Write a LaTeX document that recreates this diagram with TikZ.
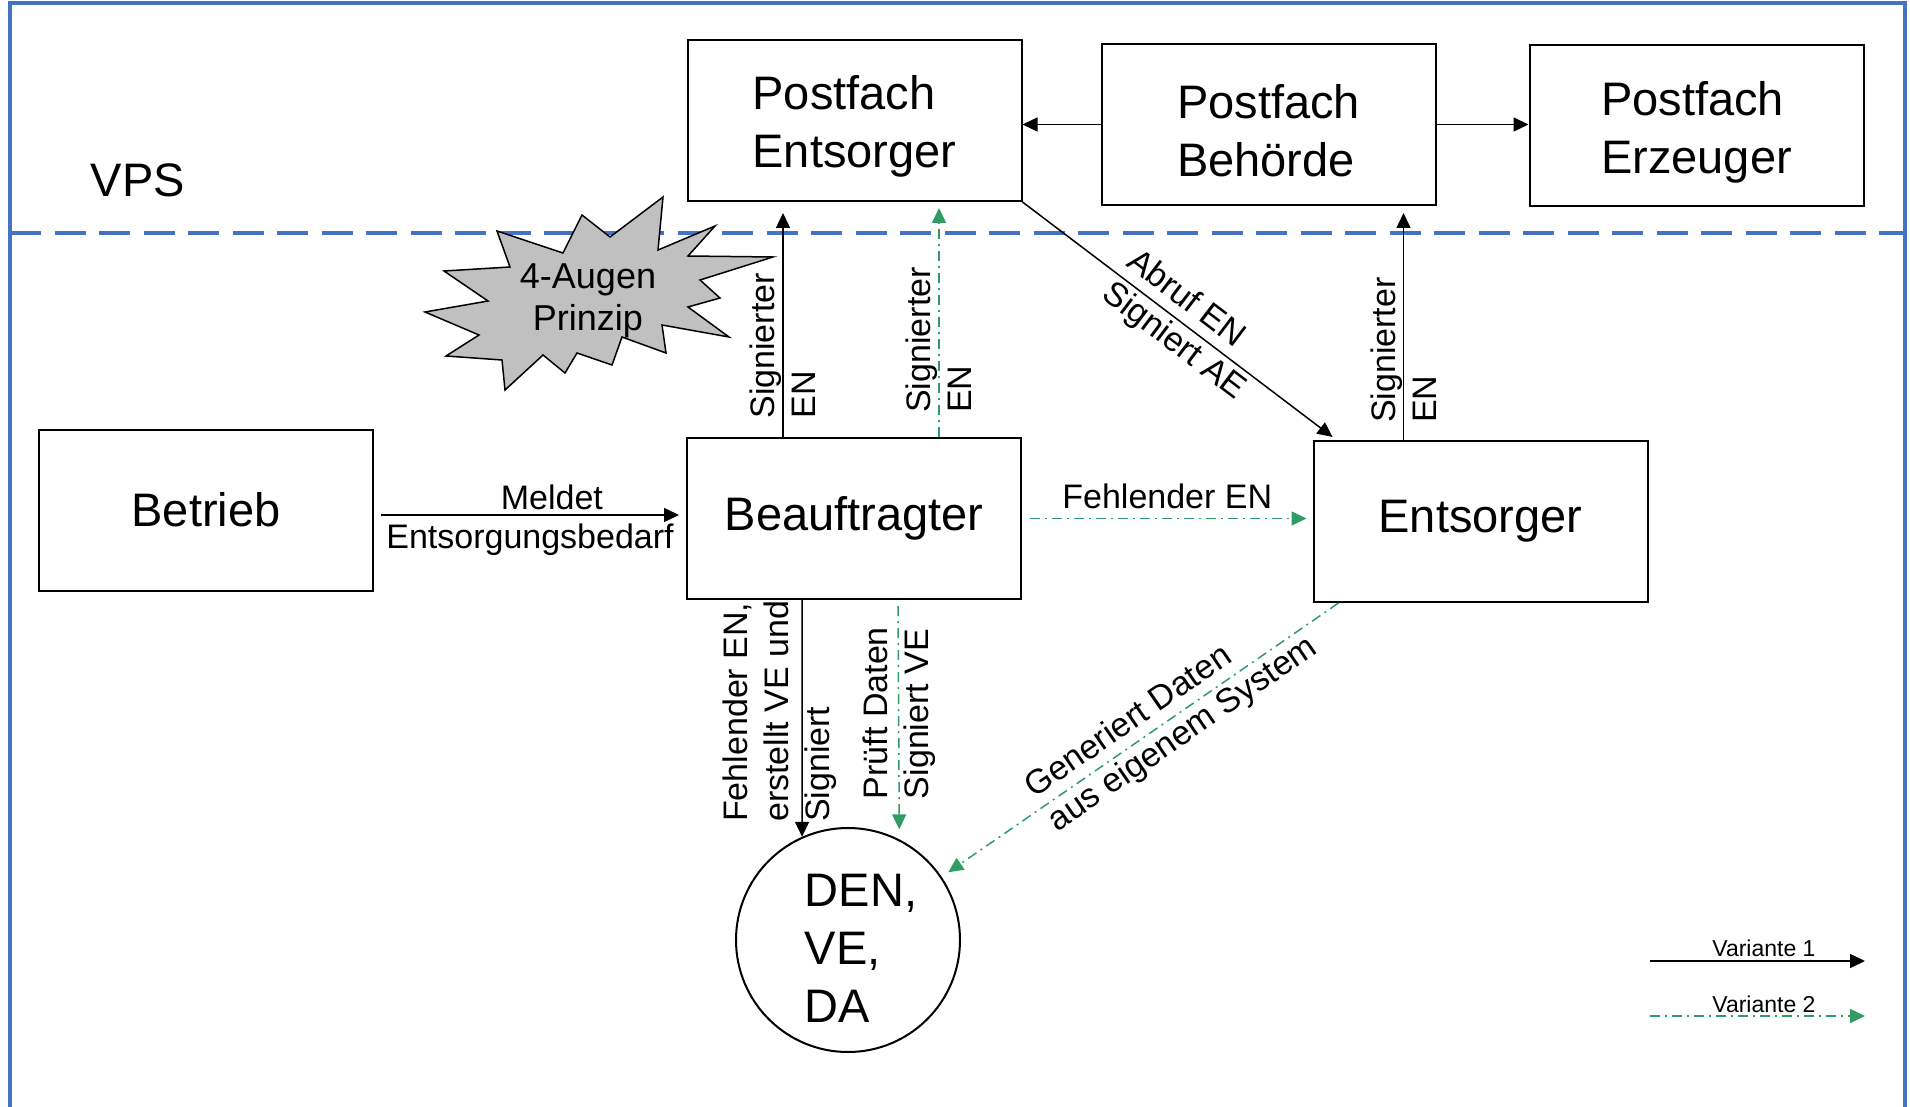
\documentclass[tikz,border=0pt]{standalone}
\usepackage{fontspec}
\setmainfont{Liberation Sans}
\usetikzlibrary{arrows.meta}

\definecolor{vpsblau}{RGB}{68,114,196}
\definecolor{gruen}{RGB}{48,155,100}
\definecolor{sterngrau}{RGB}{192,192,192}

\newcommand{\pfstrut}{\rule{0pt}{46pt}}

\tikzset{
    kasten/.style={draw, line width=2pt, minimum width=334pt, minimum height=161pt,
        inner sep=0pt, align=left, font=\fontsize{47}{58}\selectfont},
    kreis/.style={draw, circle, line width=2pt, minimum size=224pt, inner sep=0pt},
    kreistext/.style={inner sep=0pt, align=left, xshift=13pt, yshift=-8.5pt,
        font=\fontsize{47}{58}\selectfont},
    pfeil/.style={line width=1.5pt, -{Triangle[length=15pt,width=14pt]}},
    pfeilgruen/.style={pfeil, gruen, dash pattern=on 10pt off 5pt on 2pt off 5pt},
    beschr/.style={inner sep=0pt, text=black, font=\fontsize{34}{41}\selectfont},
    legende/.style={inner sep=0pt, text=black, font=\fontsize{23}{28}\selectfont},
}

\begin{document}
\begin{tikzpicture}[x=1pt, y=-1pt]         % VPS Ablauf
    \useasboundingbox (0,0) rectangle (1910,1107);

    % 外框與 VPS 分隔線
    \draw[vpsblau, line width=3.5pt] (10,1107) -- (10,3) -- (1905,3) -- (1905,1107);
    \draw[vpsblau, line width=4.5pt, dash pattern=on 31pt off 13.5pt] (10,233) -- (1905,233);
    \node[font=\fontsize{47}{57}\selectfont] (vps) at (138,180) {VPS};

    % 4-Augen 爆炸形
    \filldraw[fill=sterngrau, line width=1.5pt, line join=miter]
        (663,197) -- (658,250) -- (715,226) -- (688,256) -- (773,257) -- (700,280)
        -- (720,298) -- (688,307) -- (729,337) -- (662,325) -- (666,353) -- (622,337)
        -- (612,365) -- (577,353) -- (565,373) -- (543,355) -- (505,390) -- (502,360)
        -- (446,356) -- (479,335) -- (425,312) -- (488,301) -- (444,271) -- (510,267)
        -- (497,231) -- (563,253) -- (582,215) -- (610,237) -- cycle;
    \node[align=center, font=\fontsize{36}{42}\selectfont] (augen) at (588,301) {4-Augen\\Prinzip};

    % 畫出方框
    \node[kasten] (pentsorger) at (854.5,120.5) {\pfstrut Postfach\\Entsorger};
    \node[kasten] (pbehoerde) at (1268.5,124.5) {\pfstrut Postfach\\Behörde};
    \node[kasten] (perzeuger) at (1696.5,126) {\pfstrut Postfach\\Erzeuger};
    \node[kasten] (betrieb) at (206,510) {Betrieb};
    \node[kasten] (beauftragter) at (854,518.5) {Beauftragter};
    \node[kasten] (entsorger) at (1480.5,521.5) {Entsorger};
    \node[kreis, label={[kreistext]center:DEN,\\VE,\\DA}] (den) at (848,940) {};

    % 畫出箭頭 (Variante 1)
    \draw[pfeil] (pbehoerde.west) -- (pbehoerde.west -| pentsorger.east);
    \draw[pfeil] (pbehoerde.east) -- (pbehoerde.east -| perzeuger.west);
    \draw[pfeil, shorten <=7pt, shorten >=7pt] ([yshift=-5pt]betrieb.east) -- ([yshift=-5pt]betrieb.east -| beauftragter.west)
        node[beschr, pos=0.57, above=4pt] (meldet) {Meldet}
        node[beschr, midway, below=8pt] (bedarf) {Entsorgungsbedarf};
    \draw[pfeil, shorten >=11pt] ([xshift=-71pt]beauftragter.north) -- ([xshift=-71pt]beauftragter.north |- pentsorger.south)
        node[beschr, pos=0.075, rotate=90, anchor=west, align=left] (sig1) {Signierter\\EN};
    \draw[pfeil, shorten >=7pt] ([xshift=-77pt]entsorger.north) -- ([xshift=-77pt]entsorger.north |- pbehoerde.south)
        node[beschr, pos=0.07, rotate=90, anchor=west, align=left] (sig3) {Signierter\\EN};
    \draw[pfeil, shorten >=5pt] (pentsorger.south east) -- ([xshift=24pt]entsorger.north west)
        node[beschr, pos=0.52, sloped, align=left] (abruf) {Abruf EN\\Signiert AE};
    \draw[pfeil] ([xshift=-52pt]beauftragter.south) -- (den.114)
        node[beschr, pos=0.94, xshift=-22pt, rotate=90, anchor=west, align=left] (fehlend) {Fehlender EN,\\erstellt VE und\\Signiert};

    % 畫出箭頭 (Variante 2)
    \draw[pfeilgruen, shorten <=8pt, shorten >=6pt] (beauftragter.east) -- (beauftragter.east -| entsorger.west)
        node[beschr, midway, above=9pt] (fehlen) {Fehlender EN};
    \draw[pfeilgruen, shorten >=6pt] ([xshift=85pt]beauftragter.north) -- ([xshift=85pt]beauftragter.north |- pentsorger.south)
        node[beschr, pos=0.1, rotate=90, anchor=west, align=left] (sig2) {Signierter\\EN};
    \draw[pfeilgruen, shorten <=6pt, shorten >=10pt] ([xshift=44pt]beauftragter.south) -- (den.63)
        node[beschr, pos=0.835, rotate=90, anchor=west, align=left] (pruef) {Prüft Daten\\Signiert VE};
    \draw[pfeilgruen, shorten >=8pt] ([xshift=26pt]entsorger.south west) -- (den.34)
        node[beschr, pos=0.42, sloped, align=left] (generiert) {Generiert Daten\\aus eigenem System};

    % 圖例
    \coordinate (v1a) at (1650,961);
    \coordinate (v1b) at (1865,961);
    \coordinate (v2a) at (1650,1016);
    \coordinate (v2b) at (1865,1016);
    \draw[pfeil] (v1a) -- (v1b) node[legende, pos=0.53, above=4pt] (var1) {Variante 1};
    \draw[pfeilgruen] (v2a) -- (v2b) node[legende, pos=0.53, above=3pt] (var2) {Variante 2};
\end{tikzpicture}
\end{document}
